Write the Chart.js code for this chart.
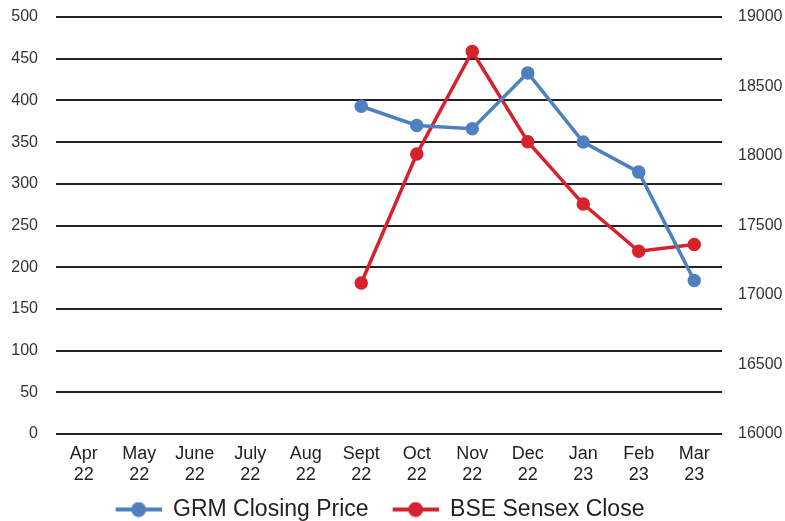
<!DOCTYPE html>
<html>
<head>
<meta charset="utf-8">
<script src="https://cdn.jsdelivr.net/npm/chart.js@4"></script>
<style>
  html, body { margin: 0; padding: 0; background: #fff; }
  #wrap { width: 785px; height: 521px; }
</style>
</head>
<body>
<div id="wrap"><canvas id="myChart" width="785" height="521"></canvas></div>
<script>
const labels = [
    ['Apr', '22'], ['May', '22'], ['June', '22'], ['July', '22'], ['Aug', '22'], ['Sept', '22'],
    ['Oct', '22'], ['Nov', '22'], ['Dec', '22'], ['Jan', '23'], ['Feb', '23'], ['Mar', '23']
];

const grmClose = [null, null, null, null, null, 393, 370, 366, 433, 350, 314, 184];
const sensexClose = [null, null, null, null, null, 17086, 18014, 18752, 18103, 17654, 17315, 17363];

const blue = '#4e80c0';
const red = '#d5222b';
const fontFamily = 'Liberation Sans, Arial, sans-serif';

// legend marker: short line with a dot, with some blank space on the left as item gap
function marker(color) {
    let c = document.createElement('canvas');
    c.width = 64;
    c.height = 16;
    let ctx = c.getContext('2d');
    ctx.strokeStyle = color;
    ctx.lineWidth = 4;
    ctx.beginPath();
    ctx.moveTo(18, 8);
    ctx.lineTo(64, 8);
    ctx.stroke();
    ctx.fillStyle = color;
    ctx.beginPath();
    ctx.arc(41, 8, 7.5, 0, Math.PI * 2);
    ctx.fill();
    return c;
}

const data = {
    labels: labels,
    datasets: [{
        label: 'GRM Closing Price',
        data: grmClose,
        borderColor: blue,
        backgroundColor: blue,
        borderWidth: 3.5,
        pointRadius: 5,
        yAxisID: 'y'
    }, {
        label: 'BSE Sensex Close',
        data: sensexClose,
        borderColor: red,
        backgroundColor: red,
        borderWidth: 3.5,
        pointRadius: 5,
        yAxisID: 'y1'
    }]
};

const tickFont = { family: fontFamily, size: 16 };

function fixWidth(w) {
    return (scale) => {
        scale.width = w;
        scale.paddingTop = 0;
        scale.paddingBottom = 0;
    };
}

const config = {
    type: 'line',
    data: data,
    options: {
        responsive: false,
        animation: false,
        layout: { padding: { top: 17, left: -42, right: 1, bottom: -10 } },
        plugins: {
            tooltip: { enabled: false },
            legend: {
                position: 'bottom',
                labels: {
                    color: '#222',
                    font: { family: fontFamily, size: 23 },
                    usePointStyle: true,
                    pointStyleWidth: 64,
                    padding: 6,
                    generateLabels: function (chart) {
                        return chart.data.datasets.map((ds, i) => ({
                            text: ds.label,
                            pointStyle: marker(ds.borderColor),
                            fillStyle: ds.borderColor,
                            strokeStyle: ds.borderColor,
                            lineWidth: 0,
                            fontColor: '#222',
                            datasetIndex: i
                        }));
                    }
                }
            }
        },
        scales: {
            x: {
                offset: true,
                grid: { display: false },
                border: { display: false },
                afterFit: (scale) => {
                    scale.height = 58;
                    scale.paddingLeft = 0;
                    scale.paddingRight = 0;
                },
                ticks: {
                    color: '#222',
                    font: { family: fontFamily, size: 18, lineHeight: 1.15 },
                    maxRotation: 0,
                    autoSkip: false,
                    padding: 2
                }
            },
            y: {
                position: 'left',
                min: 0,
                max: 500,
                border: { display: false },
                grid: { color: '#222', lineWidth: 2, drawTicks: false },
                afterFit: fixWidth(98),
                ticks: { stepSize: 50, color: '#333', font: tickFont, padding: 18 }
            },
            y1: {
                position: 'right',
                min: 16000,
                max: 19000,
                border: { display: false },
                grid: { display: false, drawTicks: false },
                afterFit: fixWidth(62),
                ticks: {
                    stepSize: 500,
                    color: '#333',
                    font: tickFont,
                    padding: 16,
                    callback: (v) => String(v)
                }
            }
        }
    }
};

new Chart(document.getElementById('myChart'), config);
</script>
</body>
</html>
